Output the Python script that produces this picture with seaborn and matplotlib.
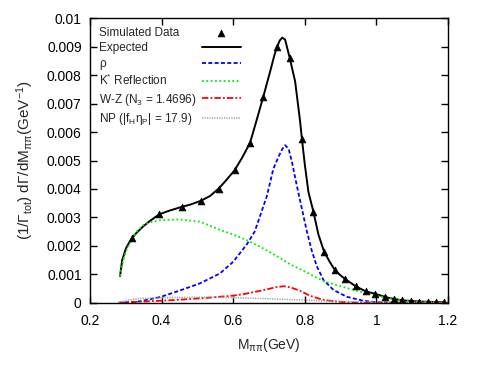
import numpy as np
import pandas as pd
import seaborn as sns
import matplotlib
matplotlib.use("Agg")
import matplotlib.pyplot as plt
from matplotlib.ticker import FuncFormatter

# simulated data points (triangles)
data_x = [0.318, 0.394, 0.456, 0.509, 0.559, 0.604, 0.647, 0.684, 0.722, 0.758,
          0.792, 0.824, 0.854, 0.884, 0.913, 0.942, 0.970, 0.997, 1.024, 1.048,
          1.072, 1.097, 1.120, 1.143, 1.166, 1.189]
data_y = [0.00226, 0.00312, 0.00337, 0.00359, 0.00401, 0.00466, 0.00562, 0.00724, 0.00898, 0.00860,
          0.00575, 0.00319, 0.00179, 0.00115, 0.00083, 0.00058, 0.00040, 0.00030, 0.00020, 0.00013,
          0.00009, 0.00006, 0.00004, 0.00003, 0.00003, 0.00002]

# expected (total)
exp_x = [0.284, 0.29, 0.30, 0.31, 0.318, 0.33, 0.35, 0.37, 0.394, 0.42, 0.456, 0.48, 0.509,
         0.535, 0.56, 0.58, 0.604, 0.625, 0.647, 0.665, 0.684, 0.703, 0.715, 0.722, 0.73,
         0.737, 0.745, 0.758, 0.773, 0.787, 0.792, 0.80, 0.81, 0.824, 0.838, 0.854, 0.87,
         0.884, 0.90, 0.913, 0.942, 0.97, 1.0, 1.025, 1.05, 1.075, 1.10, 1.125, 1.15, 1.19]
exp_y = [0.00094, 0.00150, 0.00190, 0.00213, 0.00228, 0.00246, 0.00270, 0.00290, 0.00311,
         0.00323, 0.00337, 0.00345, 0.00358, 0.00375, 0.00402, 0.00430, 0.00466, 0.00510,
         0.00562, 0.00640, 0.00724, 0.00812, 0.00870, 0.00898, 0.00922, 0.00932, 0.00925,
         0.00860, 0.00778, 0.00636, 0.00575, 0.00486, 0.00390, 0.00320, 0.00240, 0.00179,
         0.00143, 0.00115, 0.00096, 0.00083, 0.00058, 0.00040, 0.00030, 0.00020, 0.00013,
         0.00008, 0.00006, 0.00004, 0.00003, 0.00002]

# rho
rho_x = [0.28, 0.30, 0.34, 0.396, 0.442, 0.507, 0.563, 0.60, 0.638, 0.66, 0.675, 0.694,
         0.712, 0.726, 0.737, 0.745, 0.755, 0.765, 0.773, 0.785, 0.792, 0.805, 0.819,
         0.833, 0.852, 0.88, 0.917, 0.963, 1.0, 1.05, 1.2]
rho_y = [0.0, 0.00001, 0.00005, 0.00020, 0.00039, 0.00068, 0.00103, 0.00144, 0.00205,
         0.00250, 0.00305, 0.00375, 0.00470, 0.00512, 0.00540, 0.00554, 0.00540, 0.00490,
         0.00440, 0.00370, 0.00330, 0.00255, 0.00185, 0.00130, 0.00080, 0.00045, 0.00021,
         0.00007, 0.00002, 0.0, 0.0]

# K* reflection
ks_x = [0.284, 0.29, 0.30, 0.318, 0.33, 0.349, 0.37, 0.396, 0.447, 0.507, 0.563, 0.60,
        0.638, 0.675, 0.722, 0.759, 0.80, 0.852, 0.90, 0.945, 1.0, 1.038, 1.084, 1.14, 1.2]
ks_y = [0.00094, 0.00135, 0.00180, 0.00226, 0.00250, 0.00273, 0.00283, 0.00290, 0.00293,
        0.00285, 0.00256, 0.00240, 0.00220, 0.00197, 0.00164, 0.00135, 0.00110, 0.00076,
        0.00058, 0.00042, 0.00025, 0.00015, 0.00006, 0.00002, 0.0]

# W-Z
wz_x = [0.28, 0.349, 0.442, 0.535, 0.60, 0.628, 0.66, 0.694, 0.72, 0.742, 0.76, 0.787,
        0.815, 0.852, 0.898, 0.95, 1.2]
wz_y = [0.0, 0.00004, 0.00010, 0.00018, 0.00025, 0.00030, 0.00038, 0.00047, 0.00055,
        0.00058, 0.00054, 0.00042, 0.00024, 0.00010, 0.00003, 0.0, 0.0]

# NP
np_x = [0.28, 0.30, 0.33, 0.40, 0.535, 0.60, 0.675, 0.759, 0.852, 0.945, 1.05, 1.2]
np_y = [0.0, 0.00008, 0.00014, 0.00018, 0.00020, 0.00018, 0.00015, 0.00011, 0.00007,
        0.00004, 0.00002, 0.00001]

x_ticks = [0.2, 0.4, 0.6, 0.8, 1.0, 1.2]
y_ticks = [0, 0.001, 0.002, 0.003, 0.004, 0.005, 0.006, 0.007, 0.008, 0.009, 0.01]

sns.set_theme(style="ticks")
plt.rcParams['font.family'] = ['Liberation Sans', 'DejaVu Sans']
plt.rcParams['mathtext.default'] = 'regular'
plt.rcParams['axes.linewidth'] = 1.0

fig = plt.figure(figsize=(4.82, 3.71), dpi=100)
ax = fig.add_axes([0.1867, 0.184, 0.7428, 0.7667])

sns.scatterplot(x=data_x, y=data_y, ax=ax, marker='^', color='black', s=24,
                edgecolor='black', linewidth=0.5, label='Simulated Data', zorder=5)
sns.lineplot(x=exp_x, y=exp_y, ax=ax, color='black', lw=1.4, label='Expected')
sns.lineplot(x=rho_x, y=rho_y, ax=ax, color='#0000ff', lw=1.3,
             linestyle=(0, (2.2, 1.3)), label='ρ')
sns.lineplot(x=ks_x, y=ks_y, ax=ax, color='#00ee00', lw=1.3,
             linestyle=(0, (1.0, 1.4)), label='K$^{*}$ Reflection')
sns.lineplot(x=wz_x, y=wz_y, ax=ax, color='#ff0000', lw=1.3,
             linestyle=(0, (3.5, 1.2, 1.0, 1.2)), label='W-Z (N$_{3}$ = 1.4696)')
sns.lineplot(x=np_x, y=np_y, ax=ax, color='#a0a0a0', lw=1.1,
             linestyle=(0, (0.8, 0.8)), label='NP (|f$_{H}$η$_{P}$| = 17.9)')

ax.set_xlim(0.2, 1.2)
ax.set_ylim(0, 0.01)
ax.set_xticks(x_ticks)
ax.set_yticks(y_ticks)
ax.xaxis.set_major_formatter(FuncFormatter(lambda v, p: '%g' % round(v, 4)))
ax.yaxis.set_major_formatter(FuncFormatter(lambda v, p: '%g' % round(v, 4)))
ax.tick_params(direction='in', top=True, right=True, length=5, width=1,
               labelsize=10, colors='black')
ax.tick_params(axis='x', pad=8)
ax.tick_params(axis='y', pad=6)
for s in ax.spines.values():
    s.set_visible(True)
    s.set_color('black')

ax.set_xlabel('M$_{ππ}$(GeV)', fontsize=10, labelpad=6)
ax.set_ylabel('(1/Γ$_{tot}$) dΓ/dM$_{ππ}$(GeV$^{-1}$)', fontsize=11, labelpad=8)

# gnuplot style key: text left-aligned, samples on the right
handles, labels = ax.get_legend_handles_labels()
kw = dict(loc='upper left', frameon=False, fontsize=8.5, labelspacing=0.28,
          borderaxespad=0.3, borderpad=0.45)
leg1 = ax.legend(handles, labels, markerfirst=False, handlelength=3.3,
                 handletextpad=0.45, **kw)
for t in leg1.get_texts():
    t.set_alpha(0)
ax.add_artist(leg1)
leg2 = ax.legend(handles, labels, markerfirst=True, handlelength=0,
                 handletextpad=0, **kw)
for h in leg2.legend_handles:
    h.set_visible(False)

fig.savefig('out.png', dpi=100)
